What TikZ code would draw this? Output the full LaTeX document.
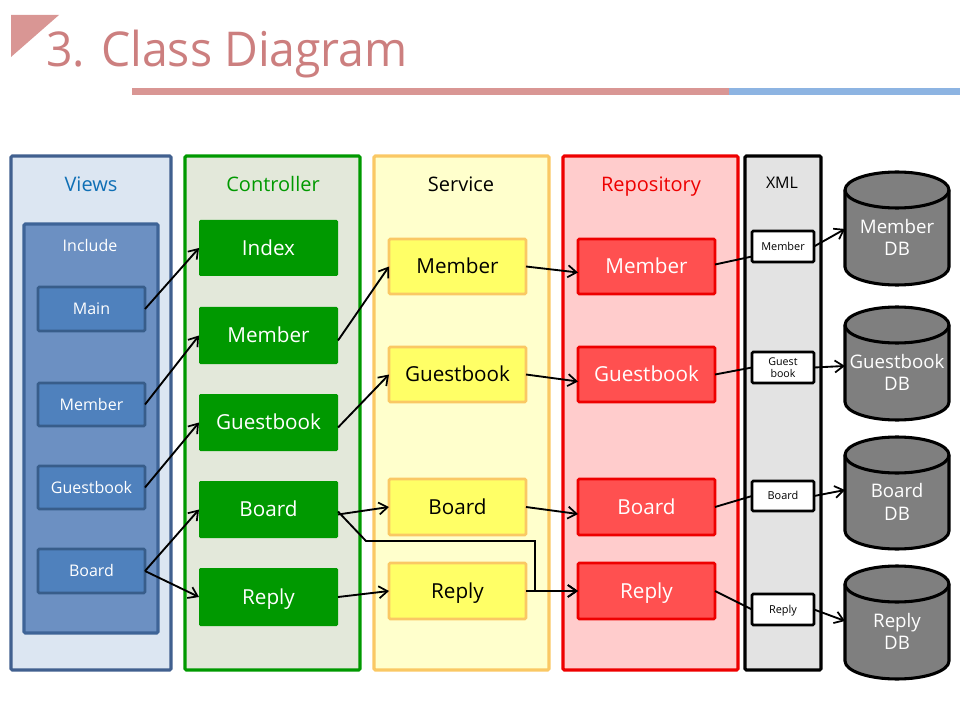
\documentclass[tikz,border=0pt]{standalone}
\usepackage{fontspec}
\setmainfont{Open Sans}
\usetikzlibrary{arrows.meta,calc}
\definecolor{titlec}{HTML}{CC7F7F}
\definecolor{rosebar}{HTML}{D99694}
\definecolor{bluebar}{HTML}{8DB4E2}
\definecolor{viewfill}{HTML}{DCE6F2}
\definecolor{viewline}{HTML}{41608F}
\definecolor{viewtext}{HTML}{0F6FB5}
\definecolor{incfill}{HTML}{6C90C2}
\definecolor{incline}{HTML}{3E6497}
\definecolor{mainfill}{HTML}{4F81BD}
\definecolor{mainline}{HTML}{385D8A}
\definecolor{ctlfill}{HTML}{E3E8DA}
\definecolor{ctlgreen}{HTML}{009900}
\definecolor{svcfill}{HTML}{FFFFCC}
\definecolor{svcline}{HTML}{FAC864}
\definecolor{svcbox}{HTML}{FFFF66}
\definecolor{repfill}{HTML}{FFCCCC}
\definecolor{repline}{HTML}{EE0000}
\definecolor{repbox}{HTML}{FF5050}
\definecolor{xmlfill}{HTML}{E3E3E3}
\definecolor{dbfill}{HTML}{7F7F7F}
\newcommand{\pxfont}[1]{\fontsize{#1}{#1}\selectfont}
% \pxbox{style}{name}{x1}{y1}{x2}{y2}{text}
\newcommand{\pxbox}[7]{\node[#1,minimum width={(#5-#3)*0.75pt},minimum height={(#6-#4)*0.75pt}] (#2) at ({(#3+#5)/2},{(#4+#6)/2}) {#7};}
% \dbnode{name}{x1}{y1}{x2}{y2}{text}
\newcommand{\dbnode}[6]{%
 \draw[dbshape] (#2,#3+18) arc[start angle=180,end angle=0,x radius={(#4-#2)/2},y radius=-18]
   -- (#4,#5-18) arc[start angle=0,end angle=180,x radius={(#4-#2)/2},y radius=18] -- cycle;
 \draw[dbshape,fill=none] (#2,#3+18) arc[start angle=180,end angle=360,x radius={(#4-#2)/2},y radius=-18];
 \node[dbtext,minimum width={(#4-#2)*0.75pt},minimum height={(#5-#3-18)*0.75pt}] (#1) at ({(#2+#4)/2},{(#3+18+#5)/2}) {#6};}
\tikzset{
 x=0.75pt,y=-0.75pt,
 base/.style={rectangle,inner sep=0pt,outer sep=0pt,align=center,rounded corners=1pt},
 capline/.style={text height=#1*0.714pt,text depth=0pt,font=\pxfont{#1}},
 panelv/.style={base,draw=viewline,fill=viewfill,line width=2.3pt},
 panelc/.style={base,draw=ctlgreen,fill=ctlfill,line width=2.3pt},
 panels/.style={base,draw=svcline,fill=svcfill,line width=2.3pt},
 panelr/.style={base,draw=repline,fill=repfill,line width=2.3pt},
 panelx/.style={base,draw=black,fill=xmlfill,line width=2.3pt},
 incpanel/.style={base,draw=incline,fill=incfill,line width=2.3pt},
 viewbox/.style={base,capline=12,draw=mainline,fill=mainfill,line width=2pt,text=white},
 ctlbox/.style={base,capline=15.5,fill=ctlgreen,text=white},
 svcnode/.style={base,capline=15.5,draw=svcline,fill=svcbox,line width=2pt,text=black},
 repnode/.style={base,capline=15.5,draw=repline,fill=repbox,line width=2pt,text=white},
 xmlbox/.style={base,capline=8.2,draw=black,fill=white,line width=2pt,text=black},
 xmlboxtight/.style={base,draw=black,fill=white,line width=2pt,text=black,font=\fontsize{8}{9.4}\selectfont},
 heading/.style={capline=15,inner sep=0pt,outer sep=0pt},
 smallheading/.style={capline=12,inner sep=0pt,outer sep=0pt},
 dbshape/.style={draw=black,fill=dbfill,line width=2.3pt},
 dbtext/.style={rectangle,inner sep=0pt,outer sep=0pt,align=center,text=white,font=\fontsize{14}{17}\selectfont},
 conn/.style={draw=black,line width=1.4pt,-{Straight Barb[length=6.5pt,width=9pt,line width=1.3pt]}},
 plainconn/.style={draw=black,line width=1.4pt},
}
\begin{document}
\begin{tikzpicture}
\useasboundingbox (0,0) rectangle (960,720);
% header
\fill[rosebar] (11,15) -- (59,15) -- (11,57) -- cycle;
\node[anchor=base west,inner sep=0pt,text=titlec,font=\fontsize{36}{36}\selectfont,xscale=0.966,transform shape] (title) at (46,67) {3. Class Diagram};
\fill[rosebar] (132,88) rectangle (729,95);
\fill[bluebar] (729,88) rectangle (960,95);
% panels
\pxbox{panelv}{pviews}{11}{156}{171}{670}{}
\pxbox{panelc}{pctl}{185}{156}{360}{670}{}
\pxbox{panels}{psvc}{374}{156}{549}{670}{}
\pxbox{panelr}{prep}{563}{156}{738}{670}{}
\pxbox{panelx}{pxml}{745}{156}{821}{670}{}
\pxbox{incpanel}{pinc}{24}{224}{158}{633}{}
% headings
\node[heading,text=viewtext] (hviews) at (91,184) {Views};
\node[heading,text=ctlgreen] (hctl) at (273,184) {Controller};
\node[heading,text=black] (hsvc) at (461,184) {Service};
\node[heading,text=repline] (hrep) at (651,184) {Repository};
\node[smallheading,text=black] (hxml) at (782,183) {XML};
\node[smallheading,text=white] (hinc) at (90,246) {Include};
% views
\pxbox{viewbox}{vmain}{38}{287}{145}{331}{Main}
\pxbox{viewbox}{vmember}{38}{383}{145}{426}{Member}
\pxbox{viewbox}{vguest}{38}{466}{145}{509}{Guestbook}
\pxbox{viewbox}{vboard}{38}{549}{145}{593}{Board}
% controllers
\pxbox{ctlbox}{cindex}{199}{220}{338}{276}{Index}
\pxbox{ctlbox}{cmember}{199}{307}{338}{364}{Member}
\pxbox{ctlbox}{cguest}{199}{394}{338}{451}{Guestbook}
\pxbox{ctlbox}{cboard}{199}{481}{338}{538}{Board}
\pxbox{ctlbox}{creply}{199}{568}{338}{626}{Reply}
% services
\pxbox{svcnode}{smember}{389}{239}{526}{294}{Member}
\pxbox{svcnode}{sguest}{389}{347}{526}{402}{Guestbook}
\pxbox{svcnode}{sboard}{389}{479}{526}{535}{Board}
\pxbox{svcnode}{sreply}{389}{563}{526}{619}{Reply}
% repositories
\pxbox{repnode}{rmember}{578}{239}{715}{294}{Member}
\pxbox{repnode}{rguest}{578}{347}{715}{402}{Guestbook}
\pxbox{repnode}{rboard}{578}{479}{715}{535}{Board}
\pxbox{repnode}{rreply}{578}{563}{715}{619}{Reply}
% xml
\pxbox{xmlbox}{xmember}{752}{231}{814}{262}{Member}
\pxbox{xmlboxtight}{xguest}{752}{352}{814}{383}{Guest\\book}
\pxbox{xmlbox}{xboard}{752}{481}{814}{511}{Board}
\pxbox{xmlbox}{xreply}{752}{594}{814}{625}{Reply}
% databases
\dbnode{dmember}{845}{172}{949}{285}{Member\\DB}
\dbnode{dguest}{845}{307}{949}{420}{Guestbook\\DB}
\dbnode{dboard}{845}{437}{949}{549}{Board\\DB}
\dbnode{dreply}{845}{566}{949}{679}{Reply\\DB}
% connectors
\draw[conn] (vmain.east) -- (cindex.west);
\draw[conn] (vmember.east) -- (cmember.west);
\draw[conn] (vguest.east) -- (cguest.west);
\draw[conn] (vboard.east) -- (cboard.west);
\draw[conn] (vboard.east) -- (creply.west);
\draw[conn] ([yshift=-3.75pt]cmember.east) -- (smember.west);
\draw[conn] ([yshift=-3.75pt]cguest.east) -- (sguest.west);
\draw[conn] ([yshift=-3.75pt]cboard.east) -- (sboard.west);
\draw[conn] (creply.east) -- (sreply.west);
\coordinate (elbowa) at (366,541);
\coordinate (elbowb) at (535,541);
\draw[conn] ([yshift=-1.5pt]cboard.east) -- (elbowa) -- (elbowb) -- (elbowb |- rreply.west) -- (rreply.west);
\draw[conn] (smember.east) -- ([yshift=-4.5pt]rmember.west);
\draw[conn] (sguest.east) -- ([yshift=-5.25pt]rguest.west);
\draw[conn] (sboard.east) -- ([yshift=-5.25pt]rboard.west);
\draw[conn] (sreply.east) -- (rreply.west);
\draw[plainconn] ([yshift=1.5pt]rmember.east) -- ([yshift=-7.5pt]xmember.west);
\draw[plainconn] (rguest.east) -- (xguest.west);
\draw[plainconn] (rboard.east) -- (xboard.west);
\draw[plainconn] (rreply.east) -- (xreply.west);
\draw[conn] (xmember.east) -- ([yshift=6.4pt]dmember.west);
\draw[conn] (xguest.east) -- ([yshift=4.9pt]dguest.west);
\draw[conn] (xboard.east) -- ([yshift=9pt]dboard.west);
\draw[conn] (xreply.east) -- ([yshift=7.9pt]dreply.west);
\end{tikzpicture}
\end{document}
